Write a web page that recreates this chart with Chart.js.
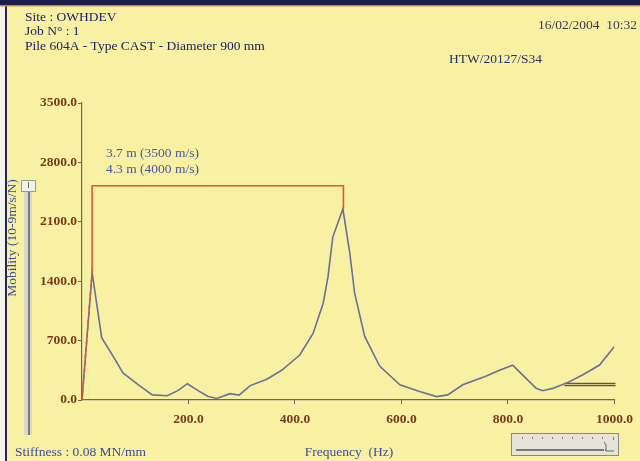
<!DOCTYPE html>
<html><head><meta charset="utf-8">
<script src="https://cdn.jsdelivr.net/npm/chart.js@4"></script>
<style>html,body{margin:0;padding:0;background:#f8f1a4;overflow:hidden}canvas{display:block}</style>
</head><body>
<canvas id="c" width="640" height="461" style="width:640px;height:461px"></canvas>
<script>
// ---- data ----
const freqHz   = [0, 19, 37, 58, 77, 106, 132, 160, 180, 198, 218, 236, 253, 278, 295, 316, 347, 375, 409, 434, 453, 462, 471, 490, 503, 512, 531, 559, 597, 634, 666, 687, 715, 756, 784, 809, 834, 853, 865, 884, 909, 940, 972, 1000];
const mobility = [0, 1500, 735, 520, 320, 177, 60, 50, 110, 192, 110, 45, 18, 75, 58, 170, 245, 350, 530, 785, 1140, 1450, 1920, 2250, 1730, 1260, 750, 400, 180, 100, 40, 60, 180, 275, 350, 410, 255, 137, 110, 137, 196, 294, 412, 630];
const markerFreq = [0, 19, 19, 491, 491];
const markerVal  = [0, 1500, 2525, 2525, 2250];
const refFreq = [906, 1002];
const refHigh = [196, 196];
const refLow  = [170, 170];
const xTicks = [200, 400, 600, 800, 1000];
const yTicks = [0, 700, 1400, 2100, 2800, 3500];
const headerLines = ['Site : OWHDEV', 'Job N° : 1', 'Pile 604A - Type CAST - Diameter 900 mm'];
const dateText = '16/02/2004  10:32';
const refText = 'HTW/20127/S34';
const lengthLabels = ['3.7 m (3500 m/s)', '4.3 m (4000 m/s)'];
const yTitle = 'Mobility (10-9m/s/N)';
const xTitle = 'Frequency  (Hz)';
const stiffText = 'Stiffness : 0.08 MN/mm';

const pts = (xs, ys) => xs.map((x, i) => ({x, y: ys[i]}));
const SERIF = '"Liberation Serif", "DejaVu Serif", serif';

const decor = {
  id: 'decor',
  beforeDraw(chart) {
    const c = chart.ctx;
    c.save();
    c.fillStyle = '#f8f1a4';
    c.fillRect(0, 0, chart.width, chart.height);
    c.fillStyle = '#f4f4ee';
    c.fillRect(0, 0, 5, chart.height);
    c.fillStyle = '#23264f';
    c.fillRect(5, 0, 2, chart.height);
    c.fillStyle = '#1c1d4a';
    c.fillRect(0, 0, chart.width, 5);
    c.fillStyle = '#c9824c';
    c.fillRect(0, 5, chart.width, 1.5);
    // left slider
    c.fillStyle = '#d8d8cc';
    c.fillRect(24, 180, 8, 255);
    c.fillStyle = '#7a7a70';
    c.fillRect(28, 190, 2, 245);
    c.fillStyle = '#f2f2ec';
    c.strokeStyle = '#9a9a90';
    c.lineWidth = 1;
    c.fillRect(21, 180, 15, 12);
    c.strokeRect(21.5, 180.5, 14, 11);
    c.fillStyle = '#6a6a60';
    c.fillRect(28, 182, 1, 6);
    // bottom-right widget
    c.fillStyle = '#e6e4d8';
    c.fillRect(511, 433, 108, 23);
    c.strokeStyle = '#8a8a80';
    c.strokeRect(511.5, 433.5, 107, 22);
    c.fillStyle = '#7a7a70';
    for (let x = 522; x < 612; x += 10) c.fillRect(x, 437, 1, 2);
    c.fillRect(516, 449, 88, 2);
    c.fillRect(605, 449, 1, 2);
    c.strokeStyle = '#6a6a60';
    c.beginPath();
    c.moveTo(604, 442); c.lineTo(606, 445); c.lineTo(606, 451); c.lineTo(614, 451);
    c.stroke();
    c.fillRect(613, 437, 1, 3);
    c.restore();
  },
  afterDraw(chart) {
    const c = chart.ctx;
    const xs = chart.scales.x;
    c.save();
    c.textBaseline = 'middle';
    c.font = '13.5px ' + SERIF;
    c.fillStyle = '#1e2262';
    c.textAlign = 'left';
    headerLines.forEach((t, i) => c.fillText(t, 25, 17 + i * 14.5));
    c.fillStyle = '#3a3a4a';
    c.textAlign = 'right';
    c.fillText(dateText, 637, 25);
    c.fillStyle = '#2a2f6a';
    c.textAlign = 'left';
    c.fillText(refText, 449, 59);
    // length labels
    c.fillStyle = '#4b56a0';
    c.textAlign = 'left';
    lengthLabels.forEach((t, i) => c.fillText(t, xs.getPixelForValue(45), 153 + i * 16.5));
    // titles
    c.fillStyle = '#3d4b9a';
    c.textAlign = 'center';
    c.fillText(xTitle, 349, 452);
    c.textAlign = 'left';
    c.fillText(stiffText, 15, 452);
    c.translate(12, 238);
    c.rotate(-Math.PI / 2);
    c.textAlign = 'center';
    c.fillText(yTitle, 0, 0);
    c.restore();
  }
};

new Chart(document.getElementById('c'), {
  type: 'line',
  data: {
    datasets: [
      {
        data: pts(markerFreq, markerVal),
        borderColor: '#e8542c', borderWidth: 1.6, pointRadius: 0, tension: 0,
        segment: { borderDash: ctx => ctx.p0DataIndex === 0 ? [4, 3] : undefined }
      },
      {
        data: pts(freqHz, mobility),
        borderColor: '#6c6f94', borderWidth: 1.6, pointRadius: 0, tension: 0
      },
      { data: pts(refFreq, refHigh), borderColor: '#58584a', borderWidth: 1.4, pointRadius: 0, clip: 6 },
      { data: pts(refFreq, refLow), borderColor: '#58584a', borderWidth: 1.4, pointRadius: 0, clip: 6 }
    ]
  },
  options: {
    responsive: false,
    animation: false,
    devicePixelRatio: 1,
    layout: { padding: { left: 0, top: 103, right: 25, bottom: 31 } },
    plugins: { legend: { display: false }, tooltip: { enabled: false }, title: { display: false } },
    scales: {
      x: {
        type: 'linear', min: 0, max: 1000,
        afterBuildTicks: a => { a.ticks = xTicks.map(v => ({value: v})); },
        afterFit: s => { s.height = 30; },
        border: { display: true, color: '#6a6660', width: 1.2 },
        grid: { display: true, drawOnChartArea: false, drawTicks: true, tickLength: 4, color: '#6a6660' },
        ticks: {
          padding: 7, maxRotation: 0, autoSkip: false,
          color: '#7a3a1c', font: { family: SERIF, size: 13.5, weight: 'bold' },
          callback: v => Number(v).toFixed(1)
        }
      },
      y: {
        type: 'linear', min: 0, max: 3500,
        afterBuildTicks: a => { a.ticks = yTicks.map(v => ({value: v})); },
        afterFit: s => { s.width = 82; },
        border: { display: true, color: '#6a6660', width: 1.2 },
        grid: { display: true, drawOnChartArea: false, drawTicks: true, tickLength: 4, color: '#6a6660' },
        ticks: {
          padding: 1, color: '#7a3a1c', font: { family: SERIF, size: 13.5, weight: 'bold' },
          callback: v => Number(v).toFixed(1)
        }
      }
    }
  },
  plugins: [decor]
});
</script>
</body></html>
